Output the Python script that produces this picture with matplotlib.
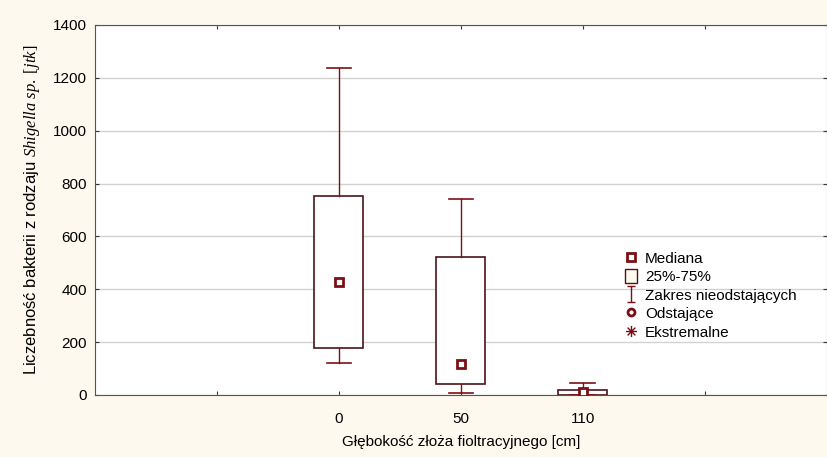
import numpy as np
import matplotlib.pyplot as plt
from matplotlib.lines import Line2D
from matplotlib.patches import Patch
from matplotlib.path import Path

plt.rcParams['font.family'] = ['Liberation Sans', 'DejaVu Sans']
plt.rcParams['mathtext.fontset'] = 'custom'
plt.rcParams['mathtext.it'] = 'Liberation Serif:italic'
plt.rcParams['mathtext.rm'] = 'Liberation Serif'

# data
categories = ['0', '50', '110']
medians = [427, 117, 12]
q1 = [177, 40, 0]
q3 = [753, 521, 18]
whisk_lo = [120, 6, 0]
whisk_hi = [1236, 743, 44]

dark_red = '#7a1015'
box_edge = '#4a1518'
bg = '#fdf9ee'

fig = plt.figure(figsize=(8.27, 4.57), dpi=100, facecolor=bg)
ax = fig.add_axes([0.1149, 0.1357, 0.8845, 0.8096])
ax.set_facecolor('white')

pos = np.arange(len(categories)) + 2
stats = []
for i in range(len(categories)):
    stats.append(dict(med=medians[i], q1=q1[i], q3=q3[i],
                      whislo=whisk_lo[i], whishi=whisk_hi[i], fliers=[]))

ax.bxp(stats, positions=pos, widths=0.4, showcaps=True, patch_artist=True,
       boxprops=dict(facecolor='white', edgecolor=box_edge, linewidth=1.2),
       whiskerprops=dict(color=dark_red, linewidth=1),
       capprops=dict(color=dark_red, linewidth=1.2),
       medianprops=dict(linewidth=0), capwidths=0.2, zorder=3)
ax.plot(pos, medians, ls='none', marker='s', ms=6, mfc='white',
        mec=dark_red, mew=2, zorder=4)

ax.set_xlim(0, 6)
ax.set_ylim(0, 1400)
ax.set_yticks(np.arange(0, 1401, 200))
ax.set_xticks([1, 2, 3, 4, 5])
ax.set_xticklabels([''] + categories + [''])
ax.yaxis.grid(True, color='#d2d2d2', linewidth=1)
ax.set_axisbelow(True)
for s in ax.spines.values():
    s.set_color('#555555')
ax.tick_params(direction='in', length=3, color='#333333', labelsize=11,
               top=True, right=True, pad=6)
ax.tick_params(axis='x', pad=12)

ax.set_xlabel('Głębokość złoża fioltracyjnego [cm]', fontsize=11, labelpad=7)
ax.set_ylabel(r'Liczebność bakterii z rodzaju $\mathit{Shigella\ sp.\ [jtk]}$',
              fontsize=12, labelpad=8)

whisk_marker = Path([(-0.5, 1), (0.5, 1), (0, 1), (0, -1), (-0.5, -1), (0.5, -1)],
                    [Path.MOVETO, Path.LINETO, Path.MOVETO, Path.LINETO,
                     Path.MOVETO, Path.LINETO])
star_marker = Path([(-1, 0), (1, 0), (0, -1), (0, 1), (-0.7, -0.7), (0.7, 0.7),
                    (-0.7, 0.7), (0.7, -0.7)],
                   [Path.MOVETO, Path.LINETO] * 4)
handles = [
    Line2D([], [], ls='none', marker='s', ms=6, mfc='white', mec=dark_red, mew=2),
    Patch(facecolor=bg, edgecolor=box_edge, linewidth=1),
    Line2D([], [], ls='none', marker=whisk_marker, ms=12, mec=dark_red, mew=1),
    Line2D([], [], ls='none', marker='o', ms=5, mfc='white', mec=dark_red, mew=2),
    Line2D([], [], ls='none', marker=star_marker, ms=8, mec=dark_red, mew=1),
]
labels = ['Mediana', '25%-75%', 'Zakres nieodstających', 'Odstające', 'Ekstremalne']
ax.legend(handles, labels, loc='upper left', bbox_to_anchor=(0.714, 0.41),
          frameon=False, fontsize=11, handlelength=0.8, handletextpad=0.5,
          labelspacing=0.22, borderpad=0, handleheight=1.0)

fig.savefig('out.png', dpi=100, facecolor=bg)
